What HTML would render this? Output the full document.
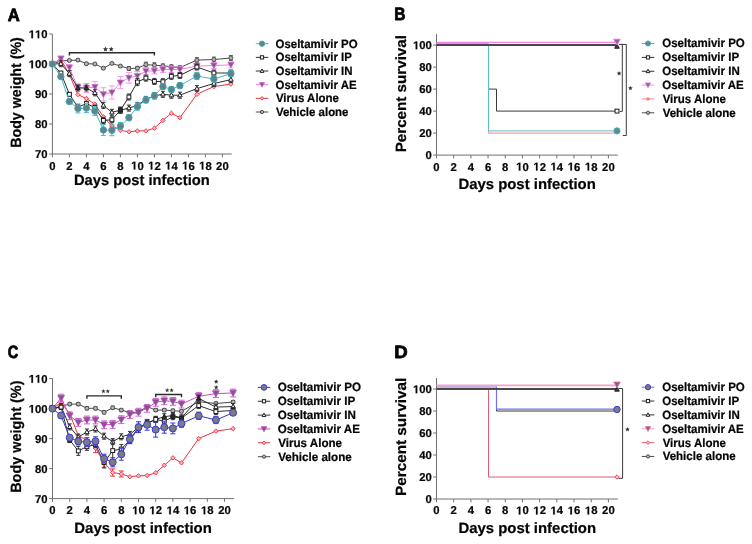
<!DOCTYPE html><html><head><meta charset="utf-8"><style>html,body{margin:0;padding:0;background:#fff;}svg{display:block;will-change:transform;text-rendering:geometricPrecision;} text{stroke:#050505;stroke-width:0.22px;stroke-linejoin:round;}</style></head><body>
<svg width="752" height="544" viewBox="0 0 752 544" font-family='"Liberation Sans", sans-serif'>
<rect width="752" height="544" fill="#fff"/>
<text x="7.84" y="20.65" font-size="17.8" font-weight="bold" fill="#050505" textLength="11.97" lengthAdjust="spacingAndGlyphs" style="stroke-width:0.8px">A</text>
<g stroke="#707070" stroke-width="1" fill="none">
<path d="M52.4 34V154H231.75"/>
<path d="M49.1 154H52.4"/>
<path d="M49.1 124H52.4"/>
<path d="M49.1 94H52.4"/>
<path d="M49.1 64H52.4"/>
<path d="M49.1 34H52.4"/>
<path d="M52.4 154V157.3"/>
<path d="M69.4 154V157.3"/>
<path d="M86.4 154V157.3"/>
<path d="M103.4 154V157.3"/>
<path d="M120.4 154V157.3"/>
<path d="M137.4 154V157.3"/>
<path d="M154.4 154V157.3"/>
<path d="M171.4 154V157.3"/>
<path d="M188.4 154V157.3"/>
<path d="M205.4 154V157.3"/>
<path d="M222.4 154V157.3"/>
</g>
<g font-size="11.3" font-weight="bold" fill="#050505">
<text x="35.03" y="158.2">7</text>
<text x="41.32" y="158.2">0</text>
<text x="35.03" y="128.2">8</text>
<text x="41.32" y="128.2">0</text>
<text x="35.03" y="98.2">9</text>
<text x="41.32" y="98.2">0</text>
<path transform="translate(28.75,68.2) scale(0.005518,-0.005518)" d="M478 0L478 1170L140 959L140 1180L493 1409L759 1409L759 0Z" stroke="#050505" stroke-width="39.9"/>
<text x="35.03" y="68.2">0</text>
<text x="41.32" y="68.2">0</text>
<path transform="translate(28.75,38.2) scale(0.005518,-0.005518)" d="M478 0L478 1170L140 959L140 1180L493 1409L759 1409L759 0Z" stroke="#050505" stroke-width="39.9"/>
<path transform="translate(35.03,38.2) scale(0.005518,-0.005518)" d="M478 0L478 1170L140 959L140 1180L493 1409L759 1409L759 0Z" stroke="#050505" stroke-width="39.9"/>
<text x="41.32" y="38.2">0</text>
<text x="49.26" y="169.5">0</text>
<text x="66.26" y="169.5">2</text>
<text x="83.26" y="169.5">4</text>
<text x="100.26" y="169.5">6</text>
<text x="117.26" y="169.5">8</text>
<path transform="translate(131.12,169.5) scale(0.005518,-0.005518)" d="M478 0L478 1170L140 959L140 1180L493 1409L759 1409L759 0Z" stroke="#050505" stroke-width="39.9"/>
<text x="137.4" y="169.5">0</text>
<path transform="translate(148.12,169.5) scale(0.005518,-0.005518)" d="M478 0L478 1170L140 959L140 1180L493 1409L759 1409L759 0Z" stroke="#050505" stroke-width="39.9"/>
<text x="154.4" y="169.5">2</text>
<path transform="translate(165.12,169.5) scale(0.005518,-0.005518)" d="M478 0L478 1170L140 959L140 1180L493 1409L759 1409L759 0Z" stroke="#050505" stroke-width="39.9"/>
<text x="171.4" y="169.5">4</text>
<path transform="translate(182.12,169.5) scale(0.005518,-0.005518)" d="M478 0L478 1170L140 959L140 1180L493 1409L759 1409L759 0Z" stroke="#050505" stroke-width="39.9"/>
<text x="188.4" y="169.5">6</text>
<path transform="translate(199.12,169.5) scale(0.005518,-0.005518)" d="M478 0L478 1170L140 959L140 1180L493 1409L759 1409L759 0Z" stroke="#050505" stroke-width="39.9"/>
<text x="205.4" y="169.5">8</text>
<text x="216.12" y="169.5">2</text>
<text x="222.4" y="169.5">0</text>
</g>
<text x="73.94" y="185.3" font-size="14.8" font-weight="bold" fill="#050505" textLength="135.86" lengthAdjust="spacingAndGlyphs">Days post infection</text>
<text transform="translate(21.2,147.83) rotate(-90)" font-size="14.8" font-weight="bold" fill="#050505" textLength="110.7" lengthAdjust="spacingAndGlyphs">Body weight (%)</text>
<path d="M69.4 55.6V52.8H154.4V55.6" stroke="#2a2a2a" stroke-width="1.4" fill="none"/>
<polyline points="52.4,64 60.9,61 69.4,60.4 77.9,60.1 86.4,63.7 94.9,64 103.4,68.2 111.9,63.4 120.4,66.1 128.9,68.5 137.4,68.2 145.9,64.6 154.4,65.2 162.9,65.8 171.4,66.7 179.9,67.6 196.9,60.1 213.9,59.5 230.9,58" fill="none" stroke="#4a4a4a" stroke-width="1"/>
<g stroke="#555" stroke-width="1" fill="none">
<path d="M60.9 60.1V61.9M58.9 60.1H62.9M58.9 61.9H62.9"/>
<path d="M69.4 59.5V61.3M67.4 59.5H71.4M67.4 61.3H71.4"/>
<path d="M77.9 59.2V61M75.9 59.2H79.9M75.9 61H79.9"/>
<path d="M86.4 62.8V64.6M84.4 62.8H88.4M84.4 64.6H88.4"/>
<path d="M94.9 63.1V64.9M92.9 63.1H96.9M92.9 64.9H96.9"/>
<path d="M103.4 67.3V69.1M101.4 67.3H105.4M101.4 69.1H105.4"/>
<path d="M111.9 62.5V64.3M109.9 62.5H113.9M109.9 64.3H113.9"/>
<path d="M120.4 65.2V67M118.4 65.2H122.4M118.4 67H122.4"/>
<path d="M128.9 66.7V70.3M126.9 66.7H130.9M126.9 70.3H130.9"/>
<path d="M137.4 66.4V70M135.4 66.4H139.4M135.4 70H139.4"/>
<path d="M145.9 62.2V67M143.9 62.2H147.9M143.9 67H147.9"/>
<path d="M154.4 62.8V67.6M152.4 62.8H156.4M152.4 67.6H156.4"/>
<path d="M162.9 64V67.6M160.9 64H164.9M160.9 67.6H164.9"/>
<path d="M171.4 64.9V68.5M169.4 64.9H173.4M169.4 68.5H173.4"/>
<path d="M179.9 65.8V69.4M177.9 65.8H181.9M177.9 69.4H181.9"/>
<path d="M196.9 57.7V62.5M194.9 57.7H198.9M194.9 62.5H198.9"/>
<path d="M213.9 57.1V61.9M211.9 57.1H215.9M211.9 61.9H215.9"/>
<path d="M230.9 55.6V60.4M228.9 55.6H232.9M228.9 60.4H232.9"/>
</g>
<circle cx="52.4" cy="64" r="2.0" fill="#b4b4b4" stroke="#444" stroke-width="0.9"/>
<circle cx="60.9" cy="61" r="2.0" fill="#b4b4b4" stroke="#444" stroke-width="0.9"/>
<circle cx="69.4" cy="60.4" r="2.0" fill="#b4b4b4" stroke="#444" stroke-width="0.9"/>
<circle cx="77.9" cy="60.1" r="2.0" fill="#b4b4b4" stroke="#444" stroke-width="0.9"/>
<circle cx="86.4" cy="63.7" r="2.0" fill="#b4b4b4" stroke="#444" stroke-width="0.9"/>
<circle cx="94.9" cy="64" r="2.0" fill="#b4b4b4" stroke="#444" stroke-width="0.9"/>
<circle cx="103.4" cy="68.2" r="2.0" fill="#b4b4b4" stroke="#444" stroke-width="0.9"/>
<circle cx="111.9" cy="63.4" r="2.0" fill="#b4b4b4" stroke="#444" stroke-width="0.9"/>
<circle cx="120.4" cy="66.1" r="2.0" fill="#b4b4b4" stroke="#444" stroke-width="0.9"/>
<circle cx="128.9" cy="68.5" r="2.0" fill="#b4b4b4" stroke="#444" stroke-width="0.9"/>
<circle cx="137.4" cy="68.2" r="2.0" fill="#b4b4b4" stroke="#444" stroke-width="0.9"/>
<circle cx="145.9" cy="64.6" r="2.0" fill="#b4b4b4" stroke="#444" stroke-width="0.9"/>
<circle cx="154.4" cy="65.2" r="2.0" fill="#b4b4b4" stroke="#444" stroke-width="0.9"/>
<circle cx="162.9" cy="65.8" r="2.0" fill="#b4b4b4" stroke="#444" stroke-width="0.9"/>
<circle cx="171.4" cy="66.7" r="2.0" fill="#b4b4b4" stroke="#444" stroke-width="0.9"/>
<circle cx="179.9" cy="67.6" r="2.0" fill="#b4b4b4" stroke="#444" stroke-width="0.9"/>
<circle cx="196.9" cy="60.1" r="2.0" fill="#b4b4b4" stroke="#444" stroke-width="0.9"/>
<circle cx="213.9" cy="59.5" r="2.0" fill="#b4b4b4" stroke="#444" stroke-width="0.9"/>
<circle cx="230.9" cy="58" r="2.0" fill="#b4b4b4" stroke="#444" stroke-width="0.9"/>
<polyline points="52.4,64 60.9,59.5 69.4,74.5 77.9,94.6 86.4,98.5 94.9,104.2 103.4,116.8 111.9,125.8 120.4,130.3 128.9,131.8 137.4,130.9 145.9,130.9 154.4,128.2 162.9,120.4 171.4,113.2 179.9,117.7 196.9,94.3 213.9,86.5 230.9,84.1" fill="none" stroke="#ee3040" stroke-width="1"/>
<path d="M52.4 61.8L54.6 64L52.4 66.2L50.2 64Z" fill="#ffb4bc" stroke="#ee3040" stroke-width="0.9"/>
<path d="M60.9 57.3L63.1 59.5L60.9 61.7L58.7 59.5Z" fill="#ffb4bc" stroke="#ee3040" stroke-width="0.9"/>
<path d="M69.4 72.3L71.6 74.5L69.4 76.7L67.2 74.5Z" fill="#ffb4bc" stroke="#ee3040" stroke-width="0.9"/>
<path d="M77.9 92.4L80.1 94.6L77.9 96.8L75.7 94.6Z" fill="#ffb4bc" stroke="#ee3040" stroke-width="0.9"/>
<path d="M86.4 96.3L88.6 98.5L86.4 100.7L84.2 98.5Z" fill="#ffb4bc" stroke="#ee3040" stroke-width="0.9"/>
<path d="M94.9 102L97.1 104.2L94.9 106.4L92.7 104.2Z" fill="#ffb4bc" stroke="#ee3040" stroke-width="0.9"/>
<path d="M103.4 114.6L105.6 116.8L103.4 119L101.2 116.8Z" fill="#ffb4bc" stroke="#ee3040" stroke-width="0.9"/>
<path d="M111.9 123.6L114.1 125.8L111.9 128L109.7 125.8Z" fill="#ffb4bc" stroke="#ee3040" stroke-width="0.9"/>
<path d="M120.4 128.1L122.6 130.3L120.4 132.5L118.2 130.3Z" fill="#ffb4bc" stroke="#ee3040" stroke-width="0.9"/>
<path d="M128.9 129.6L131.1 131.8L128.9 134L126.7 131.8Z" fill="#ffb4bc" stroke="#ee3040" stroke-width="0.9"/>
<path d="M137.4 128.7L139.6 130.9L137.4 133.1L135.2 130.9Z" fill="#ffb4bc" stroke="#ee3040" stroke-width="0.9"/>
<path d="M145.9 128.7L148.1 130.9L145.9 133.1L143.7 130.9Z" fill="#ffb4bc" stroke="#ee3040" stroke-width="0.9"/>
<path d="M154.4 126L156.6 128.2L154.4 130.4L152.2 128.2Z" fill="#ffb4bc" stroke="#ee3040" stroke-width="0.9"/>
<path d="M162.9 118.2L165.1 120.4L162.9 122.6L160.7 120.4Z" fill="#ffb4bc" stroke="#ee3040" stroke-width="0.9"/>
<path d="M171.4 111L173.6 113.2L171.4 115.4L169.2 113.2Z" fill="#ffb4bc" stroke="#ee3040" stroke-width="0.9"/>
<path d="M179.9 115.5L182.1 117.7L179.9 119.9L177.7 117.7Z" fill="#ffb4bc" stroke="#ee3040" stroke-width="0.9"/>
<path d="M196.9 92.1L199.1 94.3L196.9 96.5L194.7 94.3Z" fill="#ffb4bc" stroke="#ee3040" stroke-width="0.9"/>
<path d="M213.9 84.3L216.1 86.5L213.9 88.7L211.7 86.5Z" fill="#ffb4bc" stroke="#ee3040" stroke-width="0.9"/>
<path d="M230.9 81.9L233.1 84.1L230.9 86.3L228.7 84.1Z" fill="#ffb4bc" stroke="#ee3040" stroke-width="0.9"/>
<polyline points="52.4,64 60.9,58.6 69.4,67.6 77.9,87.4 86.4,88 94.9,87.1 103.4,94.3 111.9,92.5 120.4,82.6 128.9,77.8 137.4,76 145.9,71.2 154.4,70.9 162.9,69.4 171.4,69.4 179.9,69.4 196.9,66.1 213.9,65.5 230.9,64.9" fill="none" stroke="#f27ee8" stroke-width="1"/>
<g stroke="#f59cf0" stroke-width="1" fill="none">
<path d="M60.9 56.2V61M57.9 56.2H63.9M57.9 61H63.9"/>
<path d="M69.4 64.6V70.6M66.4 64.6H72.4M66.4 70.6H72.4"/>
<path d="M77.9 83.8V91M74.9 83.8H80.9M74.9 91H80.9"/>
<path d="M86.4 83.5V92.5M83.4 83.5H89.4M83.4 92.5H89.4"/>
<path d="M94.9 81.7V92.5M91.9 81.7H97.9M91.9 92.5H97.9"/>
<path d="M103.4 87.7V100.9M100.4 87.7H106.4M100.4 100.9H106.4"/>
<path d="M111.9 85.9V99.1M108.9 85.9H114.9M108.9 99.1H114.9"/>
<path d="M120.4 76.6V88.6M117.4 76.6H123.4M117.4 88.6H123.4"/>
<path d="M128.9 72.4V83.2M125.9 72.4H131.9M125.9 83.2H131.9"/>
<path d="M137.4 71.5V80.5M134.4 71.5H140.4M134.4 80.5H140.4"/>
<path d="M145.9 67.6V74.8M142.9 67.6H148.9M142.9 74.8H148.9"/>
<path d="M154.4 67.9V73.9M151.4 67.9H157.4M151.4 73.9H157.4"/>
<path d="M162.9 66.4V72.4M159.9 66.4H165.9M159.9 72.4H165.9"/>
<path d="M171.4 66.4V72.4M168.4 66.4H174.4M168.4 72.4H174.4"/>
<path d="M179.9 66.4V72.4M176.9 66.4H182.9M176.9 72.4H182.9"/>
<path d="M196.9 63.1V69.1M193.9 63.1H199.9M193.9 69.1H199.9"/>
<path d="M213.9 62.5V68.5M210.9 62.5H216.9M210.9 68.5H216.9"/>
<path d="M230.9 61.9V67.9M227.9 61.9H233.9M227.9 67.9H233.9"/>
</g>
<path d="M49.25 61.45L55.55 61.45L52.4 67.12Z" fill="#85578a" stroke="#d86cd4" stroke-width="0.8"/>
<path d="M57.75 56.05L64.05 56.05L60.9 61.72Z" fill="#85578a" stroke="#d86cd4" stroke-width="0.8"/>
<path d="M66.25 65.05L72.55 65.05L69.4 70.72Z" fill="#85578a" stroke="#d86cd4" stroke-width="0.8"/>
<path d="M74.75 84.85L81.05 84.85L77.9 90.52Z" fill="#85578a" stroke="#d86cd4" stroke-width="0.8"/>
<path d="M83.25 85.45L89.55 85.45L86.4 91.12Z" fill="#85578a" stroke="#d86cd4" stroke-width="0.8"/>
<path d="M91.75 84.55L98.05 84.55L94.9 90.22Z" fill="#85578a" stroke="#d86cd4" stroke-width="0.8"/>
<path d="M100.25 91.75L106.55 91.75L103.4 97.42Z" fill="#85578a" stroke="#d86cd4" stroke-width="0.8"/>
<path d="M108.75 89.95L115.05 89.95L111.9 95.62Z" fill="#85578a" stroke="#d86cd4" stroke-width="0.8"/>
<path d="M117.25 80.05L123.55 80.05L120.4 85.72Z" fill="#85578a" stroke="#d86cd4" stroke-width="0.8"/>
<path d="M125.75 75.25L132.05 75.25L128.9 80.92Z" fill="#85578a" stroke="#d86cd4" stroke-width="0.8"/>
<path d="M134.25 73.45L140.55 73.45L137.4 79.12Z" fill="#85578a" stroke="#d86cd4" stroke-width="0.8"/>
<path d="M142.75 68.65L149.05 68.65L145.9 74.32Z" fill="#85578a" stroke="#d86cd4" stroke-width="0.8"/>
<path d="M151.25 68.35L157.55 68.35L154.4 74.02Z" fill="#85578a" stroke="#d86cd4" stroke-width="0.8"/>
<path d="M159.75 66.85L166.05 66.85L162.9 72.52Z" fill="#85578a" stroke="#d86cd4" stroke-width="0.8"/>
<path d="M168.25 66.85L174.55 66.85L171.4 72.52Z" fill="#85578a" stroke="#d86cd4" stroke-width="0.8"/>
<path d="M176.75 66.85L183.05 66.85L179.9 72.52Z" fill="#85578a" stroke="#d86cd4" stroke-width="0.8"/>
<path d="M193.75 63.55L200.05 63.55L196.9 69.22Z" fill="#85578a" stroke="#d86cd4" stroke-width="0.8"/>
<path d="M210.75 62.95L217.05 62.95L213.9 68.62Z" fill="#85578a" stroke="#d86cd4" stroke-width="0.8"/>
<path d="M227.75 62.35L234.05 62.35L230.9 68.02Z" fill="#85578a" stroke="#d86cd4" stroke-width="0.8"/>
<polyline points="52.4,64 60.9,63.7 69.4,73.6 77.9,88 86.4,88 94.9,92.8 103.4,105.4 111.9,112.3 120.4,110.2 128.9,108.1 137.4,105.4 145.9,99.4 154.4,95.8 162.9,94.3 171.4,95.2 179.9,95.2 196.9,88.6 213.9,83.5 230.9,79.6" fill="none" stroke="#2e2e2e" stroke-width="1"/>
<g stroke="#333" stroke-width="1" fill="none">
<path d="M60.9 60.7V66.7M58.9 60.7H62.9M58.9 66.7H62.9"/>
<path d="M69.4 70.6V76.6M67.4 70.6H71.4M67.4 76.6H71.4"/>
<path d="M77.9 85V91M75.9 85H79.9M75.9 91H79.9"/>
<path d="M86.4 85V91M84.4 85H88.4M84.4 91H88.4"/>
<path d="M94.9 89.8V95.8M92.9 89.8H96.9M92.9 95.8H96.9"/>
<path d="M103.4 102.4V108.4M101.4 102.4H105.4M101.4 108.4H105.4"/>
<path d="M111.9 109.3V115.3M109.9 109.3H113.9M109.9 115.3H113.9"/>
<path d="M120.4 107.2V113.2M118.4 107.2H122.4M118.4 113.2H122.4"/>
<path d="M128.9 105.1V111.1M126.9 105.1H130.9M126.9 111.1H130.9"/>
<path d="M137.4 102.4V108.4M135.4 102.4H139.4M135.4 108.4H139.4"/>
<path d="M145.9 96.4V102.4M143.9 96.4H147.9M143.9 102.4H147.9"/>
<path d="M154.4 92.8V98.8M152.4 92.8H156.4M152.4 98.8H156.4"/>
<path d="M162.9 91.3V97.3M160.9 91.3H164.9M160.9 97.3H164.9"/>
<path d="M171.4 92.2V98.2M169.4 92.2H173.4M169.4 98.2H173.4"/>
<path d="M179.9 92.2V98.2M177.9 92.2H181.9M177.9 98.2H181.9"/>
<path d="M196.9 85.6V91.6M194.9 85.6H198.9M194.9 91.6H198.9"/>
<path d="M213.9 80.5V86.5M211.9 80.5H215.9M211.9 86.5H215.9"/>
<path d="M230.9 76.6V82.6M228.9 76.6H232.9M228.9 82.6H232.9"/>
</g>
<path d="M52.4 61.52L54.7 65.66L50.1 65.66Z" fill="#fff" stroke="#1e1e1e" stroke-width="1"/>
<path d="M60.9 61.22L63.2 65.36L58.6 65.36Z" fill="#fff" stroke="#1e1e1e" stroke-width="1"/>
<path d="M69.4 71.12L71.7 75.26L67.1 75.26Z" fill="#fff" stroke="#1e1e1e" stroke-width="1"/>
<path d="M77.9 85.52L80.2 89.66L75.6 89.66Z" fill="#3c2c44" stroke="#1e1e1e" stroke-width="1"/>
<path d="M86.4 85.52L88.7 89.66L84.1 89.66Z" fill="#3c2c44" stroke="#1e1e1e" stroke-width="1"/>
<path d="M94.9 90.32L97.2 94.46L92.6 94.46Z" fill="#fff" stroke="#1e1e1e" stroke-width="1"/>
<path d="M103.4 102.92L105.7 107.06L101.1 107.06Z" fill="#fff" stroke="#1e1e1e" stroke-width="1"/>
<path d="M111.9 109.82L114.2 113.96L109.6 113.96Z" fill="#fff" stroke="#1e1e1e" stroke-width="1"/>
<path d="M120.4 107.72L122.7 111.86L118.1 111.86Z" fill="#2a2a2a" stroke="#1e1e1e" stroke-width="1"/>
<path d="M128.9 105.62L131.2 109.76L126.6 109.76Z" fill="#fff" stroke="#1e1e1e" stroke-width="1"/>
<path d="M137.4 102.92L139.7 107.06L135.1 107.06Z" fill="#fff" stroke="#1e1e1e" stroke-width="1"/>
<path d="M145.9 96.92L148.2 101.06L143.6 101.06Z" fill="#fff" stroke="#1e1e1e" stroke-width="1"/>
<path d="M154.4 93.32L156.7 97.46L152.1 97.46Z" fill="#fff" stroke="#1e1e1e" stroke-width="1"/>
<path d="M162.9 91.82L165.2 95.96L160.6 95.96Z" fill="#fff" stroke="#1e1e1e" stroke-width="1"/>
<path d="M171.4 92.72L173.7 96.86L169.1 96.86Z" fill="#fff" stroke="#1e1e1e" stroke-width="1"/>
<path d="M179.9 92.72L182.2 96.86L177.6 96.86Z" fill="#fff" stroke="#1e1e1e" stroke-width="1"/>
<path d="M196.9 86.12L199.2 90.26L194.6 90.26Z" fill="#fff" stroke="#1e1e1e" stroke-width="1"/>
<path d="M213.9 81.02L216.2 85.16L211.6 85.16Z" fill="#fff" stroke="#1e1e1e" stroke-width="1"/>
<path d="M230.9 77.12L233.2 81.26L228.6 81.26Z" fill="#fff" stroke="#1e1e1e" stroke-width="1"/>
<polyline points="52.4,64 60.9,73 69.4,94.3 77.9,107.2 86.4,103.6 94.9,107.5 103.4,120.4 111.9,119.8 120.4,110.2 128.9,97 137.4,82 145.9,78.1 154.4,81.4 162.9,81.7 171.4,76.3 179.9,75.4 196.9,67 213.9,73 230.9,73" fill="none" stroke="#2e2e2e" stroke-width="1"/>
<g stroke="#333" stroke-width="1" fill="none">
<path d="M60.9 71.5V74.5M58.9 71.5H62.9M58.9 74.5H62.9"/>
<path d="M69.4 92.8V95.8M67.4 92.8H71.4M67.4 95.8H71.4"/>
<path d="M77.9 104.8V109.6M75.9 104.8H79.9M75.9 109.6H79.9"/>
<path d="M86.4 101.2V106M84.4 101.2H88.4M84.4 106H88.4"/>
<path d="M94.9 105.1V109.9M92.9 105.1H96.9M92.9 109.9H96.9"/>
<path d="M103.4 117.4V123.4M101.4 117.4H105.4M101.4 123.4H105.4"/>
<path d="M111.9 116.8V122.8M109.9 116.8H113.9M109.9 122.8H113.9"/>
<path d="M120.4 107.2V113.2M118.4 107.2H122.4M118.4 113.2H122.4"/>
<path d="M128.9 94V100M126.9 94H130.9M126.9 100H130.9"/>
<path d="M137.4 78.4V85.6M135.4 78.4H139.4M135.4 85.6H139.4"/>
<path d="M145.9 75.1V81.1M143.9 75.1H147.9M143.9 81.1H147.9"/>
<path d="M154.4 78.4V84.4M152.4 78.4H156.4M152.4 84.4H156.4"/>
<path d="M162.9 78.7V84.7M160.9 78.7H164.9M160.9 84.7H164.9"/>
<path d="M171.4 73.3V79.3M169.4 73.3H173.4M169.4 79.3H173.4"/>
<path d="M179.9 72.4V78.4M177.9 72.4H181.9M177.9 78.4H181.9"/>
<path d="M196.9 64V70M194.9 64H198.9M194.9 70H198.9"/>
<path d="M213.9 70V76M211.9 70H215.9M211.9 76H215.9"/>
<path d="M230.9 70V76M228.9 70H232.9M228.9 76H232.9"/>
</g>
<rect x="50.45" y="62.05" width="3.9" height="3.9" fill="#fff" stroke="#1e1e1e" stroke-width="1"/>
<rect x="58.95" y="71.05" width="3.9" height="3.9" fill="#fff" stroke="#1e1e1e" stroke-width="1"/>
<rect x="67.45" y="92.35" width="3.9" height="3.9" fill="#fff" stroke="#1e1e1e" stroke-width="1"/>
<rect x="75.95" y="105.25" width="3.9" height="3.9" fill="#fff" stroke="#1e1e1e" stroke-width="1"/>
<rect x="84.45" y="101.65" width="3.9" height="3.9" fill="#fff" stroke="#1e1e1e" stroke-width="1"/>
<rect x="92.95" y="105.55" width="3.9" height="3.9" fill="#fff" stroke="#1e1e1e" stroke-width="1"/>
<rect x="101.45" y="118.45" width="3.9" height="3.9" fill="#fff" stroke="#1e1e1e" stroke-width="1"/>
<rect x="109.95" y="117.85" width="3.9" height="3.9" fill="#fff" stroke="#1e1e1e" stroke-width="1"/>
<rect x="118.45" y="108.25" width="3.9" height="3.9" fill="#2a2a2a" stroke="#1e1e1e" stroke-width="1"/>
<rect x="126.95" y="95.05" width="3.9" height="3.9" fill="#fff" stroke="#1e1e1e" stroke-width="1"/>
<rect x="135.45" y="80.05" width="3.9" height="3.9" fill="#fff" stroke="#1e1e1e" stroke-width="1"/>
<rect x="143.95" y="76.15" width="3.9" height="3.9" fill="#fff" stroke="#1e1e1e" stroke-width="1"/>
<rect x="152.45" y="79.45" width="3.9" height="3.9" fill="#fff" stroke="#1e1e1e" stroke-width="1"/>
<rect x="160.95" y="79.75" width="3.9" height="3.9" fill="#fff" stroke="#1e1e1e" stroke-width="1"/>
<rect x="169.45" y="74.35" width="3.9" height="3.9" fill="#fff" stroke="#1e1e1e" stroke-width="1"/>
<rect x="177.95" y="73.45" width="3.9" height="3.9" fill="#fff" stroke="#1e1e1e" stroke-width="1"/>
<rect x="194.95" y="65.05" width="3.9" height="3.9" fill="#fff" stroke="#1e1e1e" stroke-width="1"/>
<rect x="211.95" y="71.05" width="3.9" height="3.9" fill="#fff" stroke="#1e1e1e" stroke-width="1"/>
<rect x="228.95" y="71.05" width="3.9" height="3.9" fill="#fff" stroke="#1e1e1e" stroke-width="1"/>
<polyline points="52.4,64 60.9,76.6 69.4,101.5 77.9,108.4 86.4,108.1 94.9,111.1 103.4,130 111.9,130.3 120.4,126.1 128.9,117.7 137.4,106.6 145.9,100 154.4,95.8 162.9,86.5 171.4,89.5 179.9,85.6 196.9,76 213.9,79 230.9,73.6" fill="none" stroke="#45b8c6" stroke-width="1"/>
<g stroke="#45b8c6" stroke-width="1" fill="none">
<path d="M60.9 74.8V78.4M58.4 74.8H63.4M58.4 78.4H63.4"/>
<path d="M69.4 99.1V103.9M66.9 99.1H71.9M66.9 103.9H71.9"/>
<path d="M77.9 103.9V112.9M75.4 103.9H80.4M75.4 112.9H80.4"/>
<path d="M86.4 103.6V112.6M83.9 103.6H88.9M83.9 112.6H88.9"/>
<path d="M94.9 106.6V115.6M92.4 106.6H97.4M92.4 115.6H97.4"/>
<path d="M103.4 124.6V135.4M100.9 124.6H105.9M100.9 135.4H105.9"/>
<path d="M111.9 124.9V135.7M109.4 124.9H114.4M109.4 135.7H114.4"/>
<path d="M120.4 122.5V129.7M117.9 122.5H122.9M117.9 129.7H122.9"/>
<path d="M128.9 114.7V120.7M126.4 114.7H131.4M126.4 120.7H131.4"/>
<path d="M137.4 103V110.2M134.9 103H139.9M134.9 110.2H139.9"/>
<path d="M145.9 97V103M143.4 97H148.4M143.4 103H148.4"/>
<path d="M154.4 92.8V98.8M151.9 92.8H156.9M151.9 98.8H156.9"/>
<path d="M162.9 83.5V89.5M160.4 83.5H165.4M160.4 89.5H165.4"/>
<path d="M171.4 86.5V92.5M168.9 86.5H173.9M168.9 92.5H173.9"/>
<path d="M179.9 82.6V88.6M177.4 82.6H182.4M177.4 88.6H182.4"/>
<path d="M196.9 72.4V79.6M194.4 72.4H199.4M194.4 79.6H199.4"/>
<path d="M213.9 76V82M211.4 76H216.4M211.4 82H216.4"/>
<path d="M230.9 70.6V76.6M228.4 70.6H233.4M228.4 76.6H233.4"/>
</g>
<circle cx="52.4" cy="64" r="3.2" fill="#62818a" stroke="#3fa8b4" stroke-width="1"/>
<circle cx="60.9" cy="76.6" r="3.2" fill="#62818a" stroke="#3fa8b4" stroke-width="1"/>
<circle cx="69.4" cy="101.5" r="3.2" fill="#62818a" stroke="#3fa8b4" stroke-width="1"/>
<circle cx="77.9" cy="108.4" r="3.2" fill="#62818a" stroke="#3fa8b4" stroke-width="1"/>
<circle cx="86.4" cy="108.1" r="3.2" fill="#62818a" stroke="#3fa8b4" stroke-width="1"/>
<circle cx="94.9" cy="111.1" r="3.2" fill="#62818a" stroke="#3fa8b4" stroke-width="1"/>
<circle cx="103.4" cy="130" r="3.2" fill="#62818a" stroke="#3fa8b4" stroke-width="1"/>
<circle cx="111.9" cy="130.3" r="3.2" fill="#62818a" stroke="#3fa8b4" stroke-width="1"/>
<circle cx="120.4" cy="126.1" r="3.2" fill="#62818a" stroke="#3fa8b4" stroke-width="1"/>
<circle cx="128.9" cy="117.7" r="3.2" fill="#62818a" stroke="#3fa8b4" stroke-width="1"/>
<circle cx="137.4" cy="106.6" r="3.2" fill="#62818a" stroke="#3fa8b4" stroke-width="1"/>
<circle cx="145.9" cy="100" r="3.2" fill="#62818a" stroke="#3fa8b4" stroke-width="1"/>
<circle cx="154.4" cy="95.8" r="3.2" fill="#62818a" stroke="#3fa8b4" stroke-width="1"/>
<circle cx="162.9" cy="86.5" r="3.2" fill="#62818a" stroke="#3fa8b4" stroke-width="1"/>
<circle cx="171.4" cy="89.5" r="3.2" fill="#62818a" stroke="#3fa8b4" stroke-width="1"/>
<circle cx="179.9" cy="85.6" r="3.2" fill="#62818a" stroke="#3fa8b4" stroke-width="1"/>
<circle cx="196.9" cy="76" r="3.2" fill="#62818a" stroke="#3fa8b4" stroke-width="1"/>
<circle cx="213.9" cy="79" r="3.2" fill="#62818a" stroke="#3fa8b4" stroke-width="1"/>
<circle cx="230.9" cy="73.6" r="3.2" fill="#62818a" stroke="#3fa8b4" stroke-width="1"/>
<polygon points="105.5,46.5 106.21,48.22 108.07,48.37 106.66,49.58 107.09,51.38 105.5,50.42 103.91,51.38 104.34,49.58 102.93,48.37 104.79,48.22" fill="#333"/>
<polygon points="111.2,46.5 111.91,48.22 113.77,48.37 112.36,49.58 112.79,51.38 111.2,50.42 109.61,51.38 110.04,49.58 108.63,48.37 110.49,48.22" fill="#333"/>
<path d="M255.8 43.7H268.3" stroke="#45b8c6" stroke-width="1"/>
<circle cx="262" cy="43.7" r="2.62" fill="#62818a" stroke="#3fa8b4" stroke-width="1"/>
<text x="275.54" y="47.6" font-size="12.1" font-weight="bold" fill="#050505" textLength="82.1" lengthAdjust="spacingAndGlyphs">Oseltamivir PO</text>
<path d="M255.8 57.36H268.3" stroke="#2e2e2e" stroke-width="1"/>
<rect x="260.4" y="55.76" width="3.2" height="3.2" fill="#fff" stroke="#1e1e1e" stroke-width="1"/>
<text x="275.54" y="61.26" font-size="12.1" font-weight="bold" fill="#050505" textLength="76.37" lengthAdjust="spacingAndGlyphs">Oseltamivir IP</text>
<path d="M255.8 71.02H268.3" stroke="#2e2e2e" stroke-width="1"/>
<path d="M262 68.98L263.88 72.38L260.12 72.38Z" fill="#fff" stroke="#1e1e1e" stroke-width="1"/>
<text x="275.54" y="74.92" font-size="12.1" font-weight="bold" fill="#050505" textLength="77.01" lengthAdjust="spacingAndGlyphs">Oseltamivir IN</text>
<path d="M255.8 84.68H268.3" stroke="#f27ee8" stroke-width="1"/>
<path d="M259.42 82.59L264.58 82.59L262 87.24Z" fill="#85578a" stroke="#d86cd4" stroke-width="0.8"/>
<text x="275.54" y="88.58" font-size="12.1" font-weight="bold" fill="#050505" textLength="81.04" lengthAdjust="spacingAndGlyphs">Oseltamivir AE</text>
<path d="M255.8 98.34H268.3" stroke="#ee3040" stroke-width="1"/>
<path d="M262 96.53L263.81 98.34L262 100.15L260.19 98.34Z" fill="#ffb4bc" stroke="#ee3040" stroke-width="0.9"/>
<text x="275.94" y="102.24" font-size="12.1" font-weight="bold" fill="#050505" textLength="62.99" lengthAdjust="spacingAndGlyphs">Virus Alone</text>
<path d="M255.8 112H268.3" stroke="#4a4a4a" stroke-width="1"/>
<circle cx="262" cy="112" r="1.64" fill="#b4b4b4" stroke="#444" stroke-width="0.9"/>
<text x="275.94" y="115.9" font-size="12.1" font-weight="bold" fill="#050505" textLength="72.55" lengthAdjust="spacingAndGlyphs">Vehicle alone</text>
<text x="7.87" y="358.45" font-size="17.8" font-weight="bold" fill="#050505" textLength="10.53" lengthAdjust="spacingAndGlyphs" style="stroke-width:0.8px">C</text>
<g stroke="#707070" stroke-width="1" fill="none">
<path d="M52.5 378.6V498.6H233.96"/>
<path d="M49.2 498.6H52.5"/>
<path d="M49.2 468.6H52.5"/>
<path d="M49.2 438.6H52.5"/>
<path d="M49.2 408.6H52.5"/>
<path d="M49.2 378.6H52.5"/>
<path d="M52.5 498.6V501.9"/>
<path d="M69.7 498.6V501.9"/>
<path d="M86.9 498.6V501.9"/>
<path d="M104.1 498.6V501.9"/>
<path d="M121.3 498.6V501.9"/>
<path d="M138.5 498.6V501.9"/>
<path d="M155.7 498.6V501.9"/>
<path d="M172.9 498.6V501.9"/>
<path d="M190.1 498.6V501.9"/>
<path d="M207.3 498.6V501.9"/>
<path d="M224.5 498.6V501.9"/>
</g>
<g font-size="11.3" font-weight="bold" fill="#050505">
<text x="35.03" y="502.8">7</text>
<text x="41.32" y="502.8">0</text>
<text x="35.03" y="472.8">8</text>
<text x="41.32" y="472.8">0</text>
<text x="35.03" y="442.8">9</text>
<text x="41.32" y="442.8">0</text>
<path transform="translate(28.75,412.8) scale(0.005518,-0.005518)" d="M478 0L478 1170L140 959L140 1180L493 1409L759 1409L759 0Z" stroke="#050505" stroke-width="39.9"/>
<text x="35.03" y="412.8">0</text>
<text x="41.32" y="412.8">0</text>
<path transform="translate(28.75,382.8) scale(0.005518,-0.005518)" d="M478 0L478 1170L140 959L140 1180L493 1409L759 1409L759 0Z" stroke="#050505" stroke-width="39.9"/>
<path transform="translate(35.03,382.8) scale(0.005518,-0.005518)" d="M478 0L478 1170L140 959L140 1180L493 1409L759 1409L759 0Z" stroke="#050505" stroke-width="39.9"/>
<text x="41.32" y="382.8">0</text>
<text x="49.36" y="514.3">0</text>
<text x="66.56" y="514.3">2</text>
<text x="83.76" y="514.3">4</text>
<text x="100.96" y="514.3">6</text>
<text x="118.16" y="514.3">8</text>
<path transform="translate(132.22,514.3) scale(0.005518,-0.005518)" d="M478 0L478 1170L140 959L140 1180L493 1409L759 1409L759 0Z" stroke="#050505" stroke-width="39.9"/>
<text x="138.5" y="514.3">0</text>
<path transform="translate(149.42,514.3) scale(0.005518,-0.005518)" d="M478 0L478 1170L140 959L140 1180L493 1409L759 1409L759 0Z" stroke="#050505" stroke-width="39.9"/>
<text x="155.7" y="514.3">2</text>
<path transform="translate(166.62,514.3) scale(0.005518,-0.005518)" d="M478 0L478 1170L140 959L140 1180L493 1409L759 1409L759 0Z" stroke="#050505" stroke-width="39.9"/>
<text x="172.9" y="514.3">4</text>
<path transform="translate(183.82,514.3) scale(0.005518,-0.005518)" d="M478 0L478 1170L140 959L140 1180L493 1409L759 1409L759 0Z" stroke="#050505" stroke-width="39.9"/>
<text x="190.1" y="514.3">6</text>
<path transform="translate(201.02,514.3) scale(0.005518,-0.005518)" d="M478 0L478 1170L140 959L140 1180L493 1409L759 1409L759 0Z" stroke="#050505" stroke-width="39.9"/>
<text x="207.3" y="514.3">8</text>
<text x="218.22" y="514.3">2</text>
<text x="224.5" y="514.3">0</text>
</g>
<text x="74.33" y="532.6" font-size="14.8" font-weight="bold" fill="#050505" textLength="137.48" lengthAdjust="spacingAndGlyphs">Days post infection</text>
<text transform="translate(21.3,492.84) rotate(-90)" font-size="14.8" font-weight="bold" fill="#050505" textLength="112.33" lengthAdjust="spacingAndGlyphs">Body weight (%)</text>
<path d="M86.9 398.7V395.9H121.3V398.7" stroke="#2a2a2a" stroke-width="1.4" fill="none"/>
<path d="M155.7 397.3V394.5H181.5V397.3" stroke="#2a2a2a" stroke-width="1.4" fill="none"/>
<polyline points="52.5,408.6 61.1,406.2 69.7,404.1 78.3,404.1 86.9,408.3 95.5,408.3 104.1,412.35 112.7,407.7 121.3,410.1 129.9,412.5 138.5,412.2 147.1,406.5 155.7,410.1 164.3,410.1 172.9,410.7 181.5,411.3 198.7,401.7 215.9,403.5 233.1,402" fill="none" stroke="#4a4a4a" stroke-width="1"/>
<g stroke="#555" stroke-width="1" fill="none">
<path d="M61.1 404.7V407.7M59.1 404.7H63.1M59.1 407.7H63.1"/>
<path d="M69.7 402.6V405.6M67.7 402.6H71.7M67.7 405.6H71.7"/>
<path d="M78.3 402.6V405.6M76.3 402.6H80.3M76.3 405.6H80.3"/>
<path d="M86.9 406.8V409.8M84.9 406.8H88.9M84.9 409.8H88.9"/>
<path d="M95.5 406.8V409.8M93.5 406.8H97.5M93.5 409.8H97.5"/>
<path d="M104.1 410.85V413.85M102.1 410.85H106.1M102.1 413.85H106.1"/>
<path d="M112.7 406.2V409.2M110.7 406.2H114.7M110.7 409.2H114.7"/>
<path d="M121.3 408.6V411.6M119.3 408.6H123.3M119.3 411.6H123.3"/>
<path d="M129.9 411V414M127.9 411H131.9M127.9 414H131.9"/>
<path d="M138.5 410.7V413.7M136.5 410.7H140.5M136.5 413.7H140.5"/>
<path d="M147.1 405V408M145.1 405H149.1M145.1 408H149.1"/>
<path d="M155.7 408.6V411.6M153.7 408.6H157.7M153.7 411.6H157.7"/>
<path d="M164.3 408.6V411.6M162.3 408.6H166.3M162.3 411.6H166.3"/>
<path d="M172.9 409.2V412.2M170.9 409.2H174.9M170.9 412.2H174.9"/>
<path d="M181.5 409.8V412.8M179.5 409.8H183.5M179.5 412.8H183.5"/>
<path d="M198.7 400.2V403.2M196.7 400.2H200.7M196.7 403.2H200.7"/>
<path d="M215.9 402V405M213.9 402H217.9M213.9 405H217.9"/>
<path d="M233.1 400.5V403.5M231.1 400.5H235.1M231.1 403.5H235.1"/>
</g>
<circle cx="52.5" cy="408.6" r="2.0" fill="#b4b4b4" stroke="#444" stroke-width="0.9"/>
<circle cx="61.1" cy="406.2" r="2.0" fill="#b4b4b4" stroke="#444" stroke-width="0.9"/>
<circle cx="69.7" cy="404.1" r="2.0" fill="#b4b4b4" stroke="#444" stroke-width="0.9"/>
<circle cx="78.3" cy="404.1" r="2.0" fill="#b4b4b4" stroke="#444" stroke-width="0.9"/>
<circle cx="86.9" cy="408.3" r="2.0" fill="#b4b4b4" stroke="#444" stroke-width="0.9"/>
<circle cx="95.5" cy="408.3" r="2.0" fill="#b4b4b4" stroke="#444" stroke-width="0.9"/>
<circle cx="104.1" cy="412.35" r="2.0" fill="#b4b4b4" stroke="#444" stroke-width="0.9"/>
<circle cx="112.7" cy="407.7" r="2.0" fill="#b4b4b4" stroke="#444" stroke-width="0.9"/>
<circle cx="121.3" cy="410.1" r="2.0" fill="#b4b4b4" stroke="#444" stroke-width="0.9"/>
<circle cx="129.9" cy="412.5" r="2.0" fill="#b4b4b4" stroke="#444" stroke-width="0.9"/>
<circle cx="138.5" cy="412.2" r="2.0" fill="#b4b4b4" stroke="#444" stroke-width="0.9"/>
<circle cx="147.1" cy="406.5" r="2.0" fill="#b4b4b4" stroke="#444" stroke-width="0.9"/>
<circle cx="155.7" cy="410.1" r="2.0" fill="#b4b4b4" stroke="#444" stroke-width="0.9"/>
<circle cx="164.3" cy="410.1" r="2.0" fill="#b4b4b4" stroke="#444" stroke-width="0.9"/>
<circle cx="172.9" cy="410.7" r="2.0" fill="#b4b4b4" stroke="#444" stroke-width="0.9"/>
<circle cx="181.5" cy="411.3" r="2.0" fill="#b4b4b4" stroke="#444" stroke-width="0.9"/>
<circle cx="198.7" cy="401.7" r="2.0" fill="#b4b4b4" stroke="#444" stroke-width="0.9"/>
<circle cx="215.9" cy="403.5" r="2.0" fill="#b4b4b4" stroke="#444" stroke-width="0.9"/>
<circle cx="233.1" cy="402" r="2.0" fill="#b4b4b4" stroke="#444" stroke-width="0.9"/>
<polyline points="52.5,408.6 61.1,402.6 69.7,413.7 78.3,435.6 86.9,440.1 95.5,448.2 104.1,462.6 112.7,472.5 121.3,474 129.9,476.7 138.5,475.8 147.1,475.5 155.7,472.8 164.3,465.3 172.9,457.8 181.5,462.9 198.7,438.6 215.9,431.1 233.1,428.7" fill="none" stroke="#ee3040" stroke-width="1"/>
<g stroke="#ee3040" stroke-width="1" fill="none">
<path d="M95.5 443.7V452.7M93 443.7H98M93 452.7H98"/>
<path d="M104.1 458.1V467.1M101.6 458.1H106.6M101.6 467.1H106.6"/>
<path d="M112.7 468.9V476.1M110.2 468.9H115.2M110.2 476.1H115.2"/>
<path d="M121.3 471V477M118.8 471H123.8M118.8 477H123.8"/>
</g>
<path d="M52.5 406.4L54.7 408.6L52.5 410.8L50.3 408.6Z" fill="#ffb4bc" stroke="#ee3040" stroke-width="0.9"/>
<path d="M61.1 400.4L63.3 402.6L61.1 404.8L58.9 402.6Z" fill="#ffb4bc" stroke="#ee3040" stroke-width="0.9"/>
<path d="M69.7 411.5L71.9 413.7L69.7 415.9L67.5 413.7Z" fill="#ffb4bc" stroke="#ee3040" stroke-width="0.9"/>
<path d="M78.3 433.4L80.5 435.6L78.3 437.8L76.1 435.6Z" fill="#ffb4bc" stroke="#ee3040" stroke-width="0.9"/>
<path d="M86.9 437.9L89.1 440.1L86.9 442.3L84.7 440.1Z" fill="#ffb4bc" stroke="#ee3040" stroke-width="0.9"/>
<path d="M95.5 446L97.7 448.2L95.5 450.4L93.3 448.2Z" fill="#ffb4bc" stroke="#ee3040" stroke-width="0.9"/>
<path d="M104.1 460.4L106.3 462.6L104.1 464.8L101.9 462.6Z" fill="#ffb4bc" stroke="#ee3040" stroke-width="0.9"/>
<path d="M112.7 470.3L114.9 472.5L112.7 474.7L110.5 472.5Z" fill="#ffb4bc" stroke="#ee3040" stroke-width="0.9"/>
<path d="M121.3 471.8L123.5 474L121.3 476.2L119.1 474Z" fill="#ffb4bc" stroke="#ee3040" stroke-width="0.9"/>
<path d="M129.9 474.5L132.1 476.7L129.9 478.9L127.7 476.7Z" fill="#ffb4bc" stroke="#ee3040" stroke-width="0.9"/>
<path d="M138.5 473.6L140.7 475.8L138.5 478L136.3 475.8Z" fill="#ffb4bc" stroke="#ee3040" stroke-width="0.9"/>
<path d="M147.1 473.3L149.3 475.5L147.1 477.7L144.9 475.5Z" fill="#ffb4bc" stroke="#ee3040" stroke-width="0.9"/>
<path d="M155.7 470.6L157.9 472.8L155.7 475L153.5 472.8Z" fill="#ffb4bc" stroke="#ee3040" stroke-width="0.9"/>
<path d="M164.3 463.1L166.5 465.3L164.3 467.5L162.1 465.3Z" fill="#ffb4bc" stroke="#ee3040" stroke-width="0.9"/>
<path d="M172.9 455.6L175.1 457.8L172.9 460L170.7 457.8Z" fill="#ffb4bc" stroke="#ee3040" stroke-width="0.9"/>
<path d="M181.5 460.7L183.7 462.9L181.5 465.1L179.3 462.9Z" fill="#ffb4bc" stroke="#ee3040" stroke-width="0.9"/>
<path d="M198.7 436.4L200.9 438.6L198.7 440.8L196.5 438.6Z" fill="#ffb4bc" stroke="#ee3040" stroke-width="0.9"/>
<path d="M215.9 428.9L218.1 431.1L215.9 433.3L213.7 431.1Z" fill="#ffb4bc" stroke="#ee3040" stroke-width="0.9"/>
<path d="M233.1 426.5L235.3 428.7L233.1 430.9L230.9 428.7Z" fill="#ffb4bc" stroke="#ee3040" stroke-width="0.9"/>
<polyline points="52.5,408.6 61.1,398.1 69.7,415.8 78.3,422.4 86.9,420 95.5,420 104.1,424.8 112.7,424.5 121.3,419.7 129.9,414.6 138.5,412.2 147.1,408.3 155.7,402.3 164.3,400.8 172.9,401.4 181.5,404.1 198.7,396.3 215.9,393.6 233.1,393" fill="none" stroke="#cc48cc" stroke-width="1"/>
<g stroke="#d060d0" stroke-width="1" fill="none">
<path d="M61.1 394.2V402M58.1 394.2H64.1M58.1 402H64.1"/>
<path d="M69.7 411.9V419.7M66.7 411.9H72.7M66.7 419.7H72.7"/>
<path d="M78.3 418.5V426.3M75.3 418.5H81.3M75.3 426.3H81.3"/>
<path d="M86.9 416.1V423.9M83.9 416.1H89.9M83.9 423.9H89.9"/>
<path d="M95.5 416.1V423.9M92.5 416.1H98.5M92.5 423.9H98.5"/>
<path d="M104.1 420.9V428.7M101.1 420.9H107.1M101.1 428.7H107.1"/>
<path d="M112.7 420.6V428.4M109.7 420.6H115.7M109.7 428.4H115.7"/>
<path d="M121.3 415.8V423.6M118.3 415.8H124.3M118.3 423.6H124.3"/>
<path d="M129.9 410.7V418.5M126.9 410.7H132.9M126.9 418.5H132.9"/>
<path d="M138.5 408.3V416.1M135.5 408.3H141.5M135.5 416.1H141.5"/>
<path d="M147.1 404.4V412.2M144.1 404.4H150.1M144.1 412.2H150.1"/>
<path d="M155.7 398.4V406.2M152.7 398.4H158.7M152.7 406.2H158.7"/>
<path d="M164.3 396.9V404.7M161.3 396.9H167.3M161.3 404.7H167.3"/>
<path d="M172.9 397.5V405.3M169.9 397.5H175.9M169.9 405.3H175.9"/>
<path d="M181.5 400.2V408M178.5 400.2H184.5M178.5 408H184.5"/>
<path d="M198.7 392.4V400.2M195.7 392.4H201.7M195.7 400.2H201.7"/>
<path d="M215.9 389.7V397.5M212.9 389.7H218.9M212.9 397.5H218.9"/>
<path d="M233.1 389.1V396.9M230.1 389.1H236.1M230.1 396.9H236.1"/>
</g>
<path d="M49.1 405.85L55.9 405.85L52.5 411.97Z" fill="#8a5090" stroke="#b050b8" stroke-width="0.8"/>
<path d="M57.7 395.35L64.5 395.35L61.1 401.47Z" fill="#8a5090" stroke="#b050b8" stroke-width="0.8"/>
<path d="M66.3 413.05L73.1 413.05L69.7 419.17Z" fill="#8a5090" stroke="#b050b8" stroke-width="0.8"/>
<path d="M74.9 419.65L81.7 419.65L78.3 425.77Z" fill="#8a5090" stroke="#b050b8" stroke-width="0.8"/>
<path d="M83.5 417.25L90.3 417.25L86.9 423.37Z" fill="#8a5090" stroke="#b050b8" stroke-width="0.8"/>
<path d="M92.1 417.25L98.9 417.25L95.5 423.37Z" fill="#8a5090" stroke="#b050b8" stroke-width="0.8"/>
<path d="M100.7 422.05L107.5 422.05L104.1 428.17Z" fill="#8a5090" stroke="#b050b8" stroke-width="0.8"/>
<path d="M109.3 421.75L116.1 421.75L112.7 427.87Z" fill="#8a5090" stroke="#b050b8" stroke-width="0.8"/>
<path d="M117.9 416.95L124.7 416.95L121.3 423.07Z" fill="#8a5090" stroke="#b050b8" stroke-width="0.8"/>
<path d="M126.5 411.85L133.3 411.85L129.9 417.97Z" fill="#8a5090" stroke="#b050b8" stroke-width="0.8"/>
<path d="M135.1 409.45L141.9 409.45L138.5 415.57Z" fill="#8a5090" stroke="#b050b8" stroke-width="0.8"/>
<path d="M143.7 405.55L150.5 405.55L147.1 411.67Z" fill="#8a5090" stroke="#b050b8" stroke-width="0.8"/>
<path d="M152.3 399.55L159.1 399.55L155.7 405.67Z" fill="#8a5090" stroke="#b050b8" stroke-width="0.8"/>
<path d="M160.9 398.05L167.7 398.05L164.3 404.17Z" fill="#8a5090" stroke="#b050b8" stroke-width="0.8"/>
<path d="M169.5 398.65L176.3 398.65L172.9 404.77Z" fill="#8a5090" stroke="#b050b8" stroke-width="0.8"/>
<path d="M178.1 401.35L184.9 401.35L181.5 407.47Z" fill="#8a5090" stroke="#b050b8" stroke-width="0.8"/>
<path d="M195.3 393.55L202.1 393.55L198.7 399.67Z" fill="#8a5090" stroke="#b050b8" stroke-width="0.8"/>
<path d="M212.5 390.85L219.3 390.85L215.9 396.97Z" fill="#8a5090" stroke="#b050b8" stroke-width="0.8"/>
<path d="M229.7 390.25L236.5 390.25L233.1 396.37Z" fill="#8a5090" stroke="#b050b8" stroke-width="0.8"/>
<polyline points="52.5,408.6 61.1,406.5 69.7,426.9 78.3,437.1 86.9,432 95.5,429 104.1,436.2 112.7,441.6 121.3,436.8 129.9,434.4 138.5,427.2 147.1,423.6 155.7,419.4 164.3,416.7 172.9,415.5 181.5,417.9 198.7,398.4 215.9,407.1 233.1,406.5" fill="none" stroke="#2e2e2e" stroke-width="1"/>
<g stroke="#333" stroke-width="1" fill="none">
<path d="M61.1 403.5V409.5M59.1 403.5H63.1M59.1 409.5H63.1"/>
<path d="M69.7 423.9V429.9M67.7 423.9H71.7M67.7 429.9H71.7"/>
<path d="M78.3 434.1V440.1M76.3 434.1H80.3M76.3 440.1H80.3"/>
<path d="M86.9 429V435M84.9 429H88.9M84.9 435H88.9"/>
<path d="M95.5 426V432M93.5 426H97.5M93.5 432H97.5"/>
<path d="M104.1 433.2V439.2M102.1 433.2H106.1M102.1 439.2H106.1"/>
<path d="M112.7 438.6V444.6M110.7 438.6H114.7M110.7 444.6H114.7"/>
<path d="M121.3 433.8V439.8M119.3 433.8H123.3M119.3 439.8H123.3"/>
<path d="M129.9 431.4V437.4M127.9 431.4H131.9M127.9 437.4H131.9"/>
<path d="M138.5 424.2V430.2M136.5 424.2H140.5M136.5 430.2H140.5"/>
<path d="M147.1 420.6V426.6M145.1 420.6H149.1M145.1 426.6H149.1"/>
<path d="M155.7 416.4V422.4M153.7 416.4H157.7M153.7 422.4H157.7"/>
<path d="M164.3 413.7V419.7M162.3 413.7H166.3M162.3 419.7H166.3"/>
<path d="M172.9 412.5V418.5M170.9 412.5H174.9M170.9 418.5H174.9"/>
<path d="M181.5 414.9V420.9M179.5 414.9H183.5M179.5 420.9H183.5"/>
<path d="M198.7 395.4V401.4M196.7 395.4H200.7M196.7 401.4H200.7"/>
<path d="M215.9 404.1V410.1M213.9 404.1H217.9M213.9 410.1H217.9"/>
<path d="M233.1 403.5V409.5M231.1 403.5H235.1M231.1 409.5H235.1"/>
</g>
<path d="M52.5 406.12L54.8 410.26L50.2 410.26Z" fill="#fff" stroke="#1e1e1e" stroke-width="1"/>
<path d="M61.1 404.02L63.4 408.16L58.8 408.16Z" fill="#fff" stroke="#1e1e1e" stroke-width="1"/>
<path d="M69.7 424.42L72 428.56L67.4 428.56Z" fill="#fff" stroke="#1e1e1e" stroke-width="1"/>
<path d="M78.3 434.62L80.6 438.76L76 438.76Z" fill="#fff" stroke="#1e1e1e" stroke-width="1"/>
<path d="M86.9 429.52L89.2 433.66L84.6 433.66Z" fill="#fff" stroke="#1e1e1e" stroke-width="1"/>
<path d="M95.5 426.52L97.8 430.66L93.2 430.66Z" fill="#fff" stroke="#1e1e1e" stroke-width="1"/>
<path d="M104.1 433.72L106.4 437.86L101.8 437.86Z" fill="#fff" stroke="#1e1e1e" stroke-width="1"/>
<path d="M112.7 439.12L115 443.26L110.4 443.26Z" fill="#fff" stroke="#1e1e1e" stroke-width="1"/>
<path d="M121.3 434.32L123.6 438.46L119 438.46Z" fill="#fff" stroke="#1e1e1e" stroke-width="1"/>
<path d="M129.9 431.92L132.2 436.06L127.6 436.06Z" fill="#fff" stroke="#1e1e1e" stroke-width="1"/>
<path d="M138.5 424.72L140.8 428.86L136.2 428.86Z" fill="#fff" stroke="#1e1e1e" stroke-width="1"/>
<path d="M147.1 421.12L149.4 425.26L144.8 425.26Z" fill="#fff" stroke="#1e1e1e" stroke-width="1"/>
<path d="M155.7 416.92L158 421.06L153.4 421.06Z" fill="#2a2a2a" stroke="#1e1e1e" stroke-width="1"/>
<path d="M164.3 414.22L166.6 418.36L162 418.36Z" fill="#2a2a2a" stroke="#1e1e1e" stroke-width="1"/>
<path d="M172.9 413.02L175.2 417.16L170.6 417.16Z" fill="#fff" stroke="#1e1e1e" stroke-width="1"/>
<path d="M181.5 415.42L183.8 419.56L179.2 419.56Z" fill="#fff" stroke="#1e1e1e" stroke-width="1"/>
<path d="M198.7 395.92L201 400.06L196.4 400.06Z" fill="#2a2a2a" stroke="#1e1e1e" stroke-width="1"/>
<path d="M215.9 404.62L218.2 408.76L213.6 408.76Z" fill="#fff" stroke="#1e1e1e" stroke-width="1"/>
<path d="M233.1 404.02L235.4 408.16L230.8 408.16Z" fill="#fff" stroke="#1e1e1e" stroke-width="1"/>
<polyline points="52.5,408.6 61.1,407.1 69.7,440.1 78.3,450.9 86.9,446.7 95.5,444.6 104.1,462.6 112.7,450.6 121.3,449.1 129.9,440.1 138.5,428.1 147.1,423 155.7,419.4 164.3,421.2 172.9,416.7 181.5,418.2 198.7,405.6 215.9,411.6 233.1,410.4" fill="none" stroke="#2e2e2e" stroke-width="1"/>
<g stroke="#333" stroke-width="1" fill="none">
<path d="M61.1 405.6V408.6M59.1 405.6H63.1M59.1 408.6H63.1"/>
<path d="M69.7 437.7V442.5M67.7 437.7H71.7M67.7 442.5H71.7"/>
<path d="M78.3 446.4V455.4M76.3 446.4H80.3M76.3 455.4H80.3"/>
<path d="M86.9 443.1V450.3M84.9 443.1H88.9M84.9 450.3H88.9"/>
<path d="M95.5 441.6V447.6M93.5 441.6H97.5M93.5 447.6H97.5"/>
<path d="M104.1 457.2V468M102.1 457.2H106.1M102.1 468H106.1"/>
<path d="M112.7 440.1V461.1M110.7 440.1H114.7M110.7 461.1H114.7"/>
<path d="M121.3 444.6V453.6M119.3 444.6H123.3M119.3 453.6H123.3"/>
<path d="M129.9 437.1V443.1M127.9 437.1H131.9M127.9 443.1H131.9"/>
<path d="M138.5 425.1V431.1M136.5 425.1H140.5M136.5 431.1H140.5"/>
<path d="M147.1 420V426M145.1 420H149.1M145.1 426H149.1"/>
<path d="M155.7 416.4V422.4M153.7 416.4H157.7M153.7 422.4H157.7"/>
<path d="M164.3 418.2V424.2M162.3 418.2H166.3M162.3 424.2H166.3"/>
<path d="M172.9 413.7V419.7M170.9 413.7H174.9M170.9 419.7H174.9"/>
<path d="M181.5 415.2V421.2M179.5 415.2H183.5M179.5 421.2H183.5"/>
<path d="M198.7 402.6V408.6M196.7 402.6H200.7M196.7 408.6H200.7"/>
<path d="M215.9 408.6V414.6M213.9 408.6H217.9M213.9 414.6H217.9"/>
<path d="M233.1 407.4V413.4M231.1 407.4H235.1M231.1 413.4H235.1"/>
</g>
<rect x="50.55" y="406.65" width="3.9" height="3.9" fill="#fff" stroke="#1e1e1e" stroke-width="1"/>
<rect x="59.15" y="405.15" width="3.9" height="3.9" fill="#fff" stroke="#1e1e1e" stroke-width="1"/>
<rect x="67.75" y="438.15" width="3.9" height="3.9" fill="#2a2a2a" stroke="#1e1e1e" stroke-width="1"/>
<rect x="76.35" y="448.95" width="3.9" height="3.9" fill="#fff" stroke="#1e1e1e" stroke-width="1"/>
<rect x="84.95" y="444.75" width="3.9" height="3.9" fill="#fff" stroke="#1e1e1e" stroke-width="1"/>
<rect x="93.55" y="442.65" width="3.9" height="3.9" fill="#fff" stroke="#1e1e1e" stroke-width="1"/>
<rect x="102.15" y="460.65" width="3.9" height="3.9" fill="#fff" stroke="#1e1e1e" stroke-width="1"/>
<rect x="110.75" y="448.65" width="3.9" height="3.9" fill="#fff" stroke="#1e1e1e" stroke-width="1"/>
<rect x="119.35" y="447.15" width="3.9" height="3.9" fill="#fff" stroke="#1e1e1e" stroke-width="1"/>
<rect x="127.95" y="438.15" width="3.9" height="3.9" fill="#fff" stroke="#1e1e1e" stroke-width="1"/>
<rect x="136.55" y="426.15" width="3.9" height="3.9" fill="#fff" stroke="#1e1e1e" stroke-width="1"/>
<rect x="145.15" y="421.05" width="3.9" height="3.9" fill="#fff" stroke="#1e1e1e" stroke-width="1"/>
<rect x="153.75" y="417.45" width="3.9" height="3.9" fill="#fff" stroke="#1e1e1e" stroke-width="1"/>
<rect x="162.35" y="419.25" width="3.9" height="3.9" fill="#fff" stroke="#1e1e1e" stroke-width="1"/>
<rect x="170.95" y="414.75" width="3.9" height="3.9" fill="#2a2a2a" stroke="#1e1e1e" stroke-width="1"/>
<rect x="179.55" y="416.25" width="3.9" height="3.9" fill="#2a2a2a" stroke="#1e1e1e" stroke-width="1"/>
<rect x="196.75" y="403.65" width="3.9" height="3.9" fill="#fff" stroke="#1e1e1e" stroke-width="1"/>
<rect x="213.95" y="409.65" width="3.9" height="3.9" fill="#fff" stroke="#1e1e1e" stroke-width="1"/>
<rect x="231.15" y="408.45" width="3.9" height="3.9" fill="#fff" stroke="#1e1e1e" stroke-width="1"/>
<polyline points="52.5,408.6 61.1,415.5 69.7,437.7 78.3,441.3 86.9,442.2 95.5,441.3 104.1,458.7 112.7,462.3 121.3,454.2 129.9,439.2 138.5,427.2 147.1,424.8 155.7,429.6 164.3,427.2 172.9,428.4 181.5,423.6 198.7,415.8 215.9,420 233.1,412.8" fill="none" stroke="#3434d8" stroke-width="1"/>
<g stroke="#3434d8" stroke-width="1" fill="none">
<path d="M61.1 413.7V417.3M58.6 413.7H63.6M58.6 417.3H63.6"/>
<path d="M69.7 435.3V440.1M67.2 435.3H72.2M67.2 440.1H72.2"/>
<path d="M78.3 437.7V444.9M75.8 437.7H80.8M75.8 444.9H80.8"/>
<path d="M86.9 437.7V446.7M84.4 437.7H89.4M84.4 446.7H89.4"/>
<path d="M95.5 436.8V445.8M93 436.8H98M93 445.8H98"/>
<path d="M104.1 454.2V463.2M101.6 454.2H106.6M101.6 463.2H106.6"/>
<path d="M112.7 457.8V466.8M110.2 457.8H115.2M110.2 466.8H115.2"/>
<path d="M121.3 448.2V460.2M118.8 448.2H123.8M118.8 460.2H123.8"/>
<path d="M129.9 434.7V443.7M127.4 434.7H132.4M127.4 443.7H132.4"/>
<path d="M138.5 421.8V432.6M136 421.8H141M136 432.6H141"/>
<path d="M147.1 419.4V430.2M144.6 419.4H149.6M144.6 430.2H149.6"/>
<path d="M155.7 422.1V437.1M153.2 422.1H158.2M153.2 437.1H158.2"/>
<path d="M164.3 421.2V433.2M161.8 421.2H166.8M161.8 433.2H166.8"/>
<path d="M172.9 423V433.8M170.4 423H175.4M170.4 433.8H175.4"/>
<path d="M181.5 420V427.2M179 420H184M179 427.2H184"/>
<path d="M198.7 412.2V419.4M196.2 412.2H201.2M196.2 419.4H201.2"/>
<path d="M215.9 416.4V423.6M213.4 416.4H218.4M213.4 423.6H218.4"/>
<path d="M233.1 410.4V415.2M230.6 410.4H235.6M230.6 415.2H235.6"/>
</g>
<circle cx="52.5" cy="408.6" r="3.5" fill="#7b7b85" stroke="#3a3ad0" stroke-width="1"/>
<circle cx="61.1" cy="415.5" r="3.5" fill="#7b7b85" stroke="#3a3ad0" stroke-width="1"/>
<circle cx="69.7" cy="437.7" r="3.5" fill="#7b7b85" stroke="#3a3ad0" stroke-width="1"/>
<circle cx="78.3" cy="441.3" r="3.5" fill="#7b7b85" stroke="#3a3ad0" stroke-width="1"/>
<circle cx="86.9" cy="442.2" r="3.5" fill="#7b7b85" stroke="#3a3ad0" stroke-width="1"/>
<circle cx="95.5" cy="441.3" r="3.5" fill="#7b7b85" stroke="#3a3ad0" stroke-width="1"/>
<circle cx="104.1" cy="458.7" r="3.5" fill="#7b7b85" stroke="#3a3ad0" stroke-width="1"/>
<circle cx="112.7" cy="462.3" r="3.5" fill="#7b7b85" stroke="#3a3ad0" stroke-width="1"/>
<circle cx="121.3" cy="454.2" r="3.5" fill="#7b7b85" stroke="#3a3ad0" stroke-width="1"/>
<circle cx="129.9" cy="439.2" r="3.5" fill="#7b7b85" stroke="#3a3ad0" stroke-width="1"/>
<circle cx="138.5" cy="427.2" r="3.5" fill="#7b7b85" stroke="#3a3ad0" stroke-width="1"/>
<circle cx="147.1" cy="424.8" r="3.5" fill="#7b7b85" stroke="#3a3ad0" stroke-width="1"/>
<circle cx="155.7" cy="429.6" r="3.5" fill="#7b7b85" stroke="#3a3ad0" stroke-width="1"/>
<circle cx="164.3" cy="427.2" r="3.5" fill="#7b7b85" stroke="#3a3ad0" stroke-width="1"/>
<circle cx="172.9" cy="428.4" r="3.5" fill="#7b7b85" stroke="#3a3ad0" stroke-width="1"/>
<circle cx="181.5" cy="423.6" r="3.5" fill="#7b7b85" stroke="#3a3ad0" stroke-width="1"/>
<circle cx="198.7" cy="415.8" r="3.5" fill="#7b7b85" stroke="#3a3ad0" stroke-width="1"/>
<circle cx="215.9" cy="420" r="3.5" fill="#7b7b85" stroke="#3a3ad0" stroke-width="1"/>
<circle cx="233.1" cy="412.8" r="3.5" fill="#7b7b85" stroke="#3a3ad0" stroke-width="1"/>
<polygon points="103.4,389 104.01,390.46 105.59,390.59 104.38,391.62 104.75,393.16 103.4,392.34 102.05,393.16 102.42,391.62 101.21,390.59 102.79,390.46" fill="#333"/>
<polygon points="107.8,389 108.41,390.46 109.99,390.59 108.78,391.62 109.15,393.16 107.8,392.34 106.45,393.16 106.82,391.62 105.61,390.59 107.19,390.46" fill="#333"/>
<polygon points="167.2,388 167.81,389.46 169.39,389.59 168.18,390.62 168.55,392.16 167.2,391.34 165.85,392.16 166.22,390.62 165.01,389.59 166.59,389.46" fill="#333"/>
<polygon points="171.6,388 172.21,389.46 173.79,389.59 172.58,390.62 172.95,392.16 171.6,391.34 170.25,392.16 170.62,390.62 169.41,389.59 170.99,389.46" fill="#333"/>
<polygon points="216.2,379.3 216.83,380.83 218.48,380.96 217.23,382.03 217.61,383.64 216.2,382.78 214.79,383.64 215.17,382.03 213.92,380.96 215.57,380.83" fill="#333"/>
<polygon points="216.2,384.9 216.83,386.43 218.48,386.56 217.23,387.63 217.61,389.24 216.2,388.38 214.79,389.24 215.17,387.63 213.92,386.56 215.57,386.43" fill="#333"/>
<path d="M257.8 387.4H270.3" stroke="#3434d8" stroke-width="1"/>
<circle cx="264" cy="387.4" r="2.87" fill="#7b7b85" stroke="#3a3ad0" stroke-width="1"/>
<text x="277.74" y="391.3" font-size="12.1" font-weight="bold" fill="#050505" textLength="83.32" lengthAdjust="spacingAndGlyphs">Oseltamivir PO</text>
<path d="M257.8 401.26H270.3" stroke="#2e2e2e" stroke-width="1"/>
<rect x="262.4" y="399.66" width="3.2" height="3.2" fill="#fff" stroke="#1e1e1e" stroke-width="1"/>
<text x="277.74" y="405.16" font-size="12.1" font-weight="bold" fill="#050505" textLength="77.51" lengthAdjust="spacingAndGlyphs">Oseltamivir IP</text>
<path d="M257.8 415.12H270.3" stroke="#2e2e2e" stroke-width="1"/>
<path d="M264 413.08L265.88 416.48L262.12 416.48Z" fill="#fff" stroke="#1e1e1e" stroke-width="1"/>
<text x="277.74" y="419.02" font-size="12.1" font-weight="bold" fill="#050505" textLength="78.15" lengthAdjust="spacingAndGlyphs">Oseltamivir IN</text>
<path d="M257.8 428.98H270.3" stroke="#cc48cc" stroke-width="1"/>
<path d="M261.21 426.72L266.79 426.72L264 431.74Z" fill="#8a5090" stroke="#b050b8" stroke-width="0.8"/>
<text x="277.74" y="432.88" font-size="12.1" font-weight="bold" fill="#050505" textLength="82.24" lengthAdjust="spacingAndGlyphs">Oseltamivir AE</text>
<path d="M257.8 442.84H270.3" stroke="#ee3040" stroke-width="1"/>
<path d="M264 441.04L265.81 442.84L264 444.65L262.19 442.84Z" fill="#ffb4bc" stroke="#ee3040" stroke-width="0.9"/>
<text x="278.14" y="446.74" font-size="12.1" font-weight="bold" fill="#050505" textLength="63.93" lengthAdjust="spacingAndGlyphs">Virus Alone</text>
<path d="M257.8 456.7H270.3" stroke="#4a4a4a" stroke-width="1"/>
<circle cx="264" cy="456.7" r="1.64" fill="#b4b4b4" stroke="#444" stroke-width="0.9"/>
<text x="278.14" y="460.6" font-size="12.1" font-weight="bold" fill="#050505" textLength="73.63" lengthAdjust="spacingAndGlyphs">Vehicle alone</text>
<text x="394.29" y="20.45" font-size="17.8" font-weight="bold" fill="#050505" textLength="11.2" lengthAdjust="spacingAndGlyphs" style="stroke-width:0.8px">B</text>
<g stroke="#707070" stroke-width="1" fill="none">
<path d="M436.5 34.1V155.1H617.85"/>
<path d="M433.2 155.1H436.5"/>
<path d="M433.2 133.1H436.5"/>
<path d="M433.2 111.1H436.5"/>
<path d="M433.2 89.1H436.5"/>
<path d="M433.2 67.1H436.5"/>
<path d="M433.2 45.1H436.5"/>
<path d="M436.5 155.1V158.4"/>
<path d="M453.69 155.1V158.4"/>
<path d="M470.88 155.1V158.4"/>
<path d="M488.07 155.1V158.4"/>
<path d="M505.26 155.1V158.4"/>
<path d="M522.45 155.1V158.4"/>
<path d="M539.64 155.1V158.4"/>
<path d="M556.83 155.1V158.4"/>
<path d="M574.02 155.1V158.4"/>
<path d="M591.21 155.1V158.4"/>
<path d="M608.4 155.1V158.4"/>
</g>
<g font-size="11.3" font-weight="bold" fill="#050505">
<text x="425.62" y="159.3">0</text>
<text x="419.33" y="137.3">2</text>
<text x="425.62" y="137.3">0</text>
<text x="419.33" y="115.3">4</text>
<text x="425.62" y="115.3">0</text>
<text x="419.33" y="93.3">6</text>
<text x="425.62" y="93.3">0</text>
<text x="419.33" y="71.3">8</text>
<text x="425.62" y="71.3">0</text>
<path transform="translate(413.05,49.3) scale(0.005518,-0.005518)" d="M478 0L478 1170L140 959L140 1180L493 1409L759 1409L759 0Z" stroke="#050505" stroke-width="39.9"/>
<text x="419.33" y="49.3">0</text>
<text x="425.62" y="49.3">0</text>
<text x="433.36" y="170.5">0</text>
<text x="450.55" y="170.5">2</text>
<text x="467.74" y="170.5">4</text>
<text x="484.93" y="170.5">6</text>
<text x="502.12" y="170.5">8</text>
<path transform="translate(516.17,170.5) scale(0.005518,-0.005518)" d="M478 0L478 1170L140 959L140 1180L493 1409L759 1409L759 0Z" stroke="#050505" stroke-width="39.9"/>
<text x="522.45" y="170.5">0</text>
<path transform="translate(533.36,170.5) scale(0.005518,-0.005518)" d="M478 0L478 1170L140 959L140 1180L493 1409L759 1409L759 0Z" stroke="#050505" stroke-width="39.9"/>
<text x="539.64" y="170.5">2</text>
<path transform="translate(550.55,170.5) scale(0.005518,-0.005518)" d="M478 0L478 1170L140 959L140 1180L493 1409L759 1409L759 0Z" stroke="#050505" stroke-width="39.9"/>
<text x="556.83" y="170.5">4</text>
<path transform="translate(567.74,170.5) scale(0.005518,-0.005518)" d="M478 0L478 1170L140 959L140 1180L493 1409L759 1409L759 0Z" stroke="#050505" stroke-width="39.9"/>
<text x="574.02" y="170.5">6</text>
<path transform="translate(584.93,170.5) scale(0.005518,-0.005518)" d="M478 0L478 1170L140 959L140 1180L493 1409L759 1409L759 0Z" stroke="#050505" stroke-width="39.9"/>
<text x="591.21" y="170.5">8</text>
<text x="602.12" y="170.5">2</text>
<text x="608.4" y="170.5">0</text>
</g>
<text x="458.43" y="188.75" font-size="14.8" font-weight="bold" fill="#050505" textLength="137.38" lengthAdjust="spacingAndGlyphs">Days post infection</text>
<text transform="translate(405.9,152.29) rotate(-90)" font-size="14.8" font-weight="bold" fill="#050505" textLength="117.24" lengthAdjust="spacingAndGlyphs">Percent survival</text>
<polyline points="436.5,45.1 488.5,45.1 488.5,133.1 617,133.1" fill="none" stroke="#f4a0a0" stroke-width="1.1"/>
<polyline points="488.5,89.1 496.5,89.1 496.5,111.1 617,111.1" fill="none" stroke="#3a3a3a" stroke-width="1.0"/>
<polyline points="436.5,43.7 488.5,43.7 488.5,130.9 617,130.9" fill="none" stroke="#5cbfc8" stroke-width="1.0"/>
<polyline points="436.5,45.1 617,45.1" fill="none" stroke="#4a4450" stroke-width="2"/>
<polyline points="436.5,42.35 617,42.35" fill="none" stroke="#f580e8" stroke-width="1.1"/>
<rect x="615.04" y="109.15" width="3.9" height="3.9" fill="#fff" stroke="#1e1e1e" stroke-width="1"/>
<path d="M617 44.12L619.29 48.26L614.7 48.26Z" fill="#444" stroke="#1e1e1e" stroke-width="1"/>
<circle cx="617" cy="130.9" r="3.1" fill="#5f8b90" stroke="#45b0bc" stroke-width="1"/>
<path d="M613.7 39.18L620.29 39.18L617 45.12Z" fill="#93628f" stroke="#e47ade" stroke-width="0.8"/>
<path d="M618.8 44.4H622.3V111.4H619.8" stroke="#3a3a3a" stroke-width="1" fill="none"/>
<path d="M621.3 44.4H626.3V135.5H622.8" stroke="#3a3a3a" stroke-width="1" fill="none"/>
<polygon points="619.1,71 619.76,72.59 621.48,72.73 620.17,73.85 620.57,75.52 619.1,74.62 617.63,75.52 618.03,73.85 616.72,72.73 618.44,72.59" fill="#333"/>
<polygon points="630.4,85.7 631.06,87.29 632.78,87.43 631.47,88.55 631.87,90.22 630.4,89.33 628.93,90.22 629.33,88.55 628.02,87.43 629.74,87.29" fill="#333"/>
<path d="M641.8 43.55H654.3" stroke="#45b8c6" stroke-width="1"/>
<circle cx="648" cy="43.55" r="2.54" fill="#5f8b90" stroke="#45b0bc" stroke-width="1"/>
<text x="662.24" y="47.45" font-size="12.1" font-weight="bold" fill="#050505" textLength="82.6" lengthAdjust="spacingAndGlyphs">Oseltamivir PO</text>
<path d="M641.8 57.4H654.3" stroke="#2e2e2e" stroke-width="1"/>
<rect x="646.4" y="55.8" width="3.2" height="3.2" fill="#fff" stroke="#1e1e1e" stroke-width="1"/>
<text x="662.24" y="61.3" font-size="12.1" font-weight="bold" fill="#050505" textLength="76.84" lengthAdjust="spacingAndGlyphs">Oseltamivir IP</text>
<path d="M641.8 71.25H654.3" stroke="#2e2e2e" stroke-width="1"/>
<path d="M648 69.21L649.88 72.61L646.12 72.61Z" fill="#fff" stroke="#1e1e1e" stroke-width="1"/>
<text x="662.24" y="75.15" font-size="12.1" font-weight="bold" fill="#050505" textLength="77.48" lengthAdjust="spacingAndGlyphs">Oseltamivir IN</text>
<path d="M641.8 85.1H654.3" stroke="#f58af0" stroke-width="1"/>
<path d="M645.29 82.91L650.71 82.91L648 87.78Z" fill="#93628f" stroke="#e47ade" stroke-width="0.8"/>
<text x="662.24" y="89" font-size="12.1" font-weight="bold" fill="#050505" textLength="81.53" lengthAdjust="spacingAndGlyphs">Oseltamivir AE</text>
<path d="M641.8 98.95H654.3" stroke="#f28a8a" stroke-width="1"/>
<path d="M648 97.31L649.64 98.95L648 100.59L646.36 98.95Z" fill="#f89090" stroke="#f07070" stroke-width="0.8"/>
<text x="662.64" y="102.85" font-size="12.1" font-weight="bold" fill="#050505" textLength="63.38" lengthAdjust="spacingAndGlyphs">Virus Alone</text>
<path d="M641.8 112.8H654.3" stroke="#4a4a4a" stroke-width="1"/>
<circle cx="648" cy="112.8" r="1.64" fill="#b4b4b4" stroke="#444" stroke-width="0.9"/>
<text x="662.64" y="116.7" font-size="12.1" font-weight="bold" fill="#050505" textLength="73" lengthAdjust="spacingAndGlyphs">Vehicle alone</text>
<text x="394.29" y="358.45" font-size="17.8" font-weight="bold" fill="#050505" textLength="13.45" lengthAdjust="spacingAndGlyphs" style="stroke-width:0.8px">D</text>
<g stroke="#707070" stroke-width="1" fill="none">
<path d="M436.5 378V499H617.85"/>
<path d="M433.2 499H436.5"/>
<path d="M433.2 477H436.5"/>
<path d="M433.2 455H436.5"/>
<path d="M433.2 433H436.5"/>
<path d="M433.2 411H436.5"/>
<path d="M433.2 389H436.5"/>
<path d="M436.5 499V502.3"/>
<path d="M453.69 499V502.3"/>
<path d="M470.88 499V502.3"/>
<path d="M488.07 499V502.3"/>
<path d="M505.26 499V502.3"/>
<path d="M522.45 499V502.3"/>
<path d="M539.64 499V502.3"/>
<path d="M556.83 499V502.3"/>
<path d="M574.02 499V502.3"/>
<path d="M591.21 499V502.3"/>
<path d="M608.4 499V502.3"/>
</g>
<g font-size="11.3" font-weight="bold" fill="#050505">
<text x="425.62" y="503.2">0</text>
<text x="419.33" y="481.2">2</text>
<text x="425.62" y="481.2">0</text>
<text x="419.33" y="459.2">4</text>
<text x="425.62" y="459.2">0</text>
<text x="419.33" y="437.2">6</text>
<text x="425.62" y="437.2">0</text>
<text x="419.33" y="415.2">8</text>
<text x="425.62" y="415.2">0</text>
<path transform="translate(413.05,393.2) scale(0.005518,-0.005518)" d="M478 0L478 1170L140 959L140 1180L493 1409L759 1409L759 0Z" stroke="#050505" stroke-width="39.9"/>
<text x="419.33" y="393.2">0</text>
<text x="425.62" y="393.2">0</text>
<text x="433.36" y="514.4">0</text>
<text x="450.55" y="514.4">2</text>
<text x="467.74" y="514.4">4</text>
<text x="484.93" y="514.4">6</text>
<text x="502.12" y="514.4">8</text>
<path transform="translate(516.17,514.4) scale(0.005518,-0.005518)" d="M478 0L478 1170L140 959L140 1180L493 1409L759 1409L759 0Z" stroke="#050505" stroke-width="39.9"/>
<text x="522.45" y="514.4">0</text>
<path transform="translate(533.36,514.4) scale(0.005518,-0.005518)" d="M478 0L478 1170L140 959L140 1180L493 1409L759 1409L759 0Z" stroke="#050505" stroke-width="39.9"/>
<text x="539.64" y="514.4">2</text>
<path transform="translate(550.55,514.4) scale(0.005518,-0.005518)" d="M478 0L478 1170L140 959L140 1180L493 1409L759 1409L759 0Z" stroke="#050505" stroke-width="39.9"/>
<text x="556.83" y="514.4">4</text>
<path transform="translate(567.74,514.4) scale(0.005518,-0.005518)" d="M478 0L478 1170L140 959L140 1180L493 1409L759 1409L759 0Z" stroke="#050505" stroke-width="39.9"/>
<text x="574.02" y="514.4">6</text>
<path transform="translate(584.93,514.4) scale(0.005518,-0.005518)" d="M478 0L478 1170L140 959L140 1180L493 1409L759 1409L759 0Z" stroke="#050505" stroke-width="39.9"/>
<text x="591.21" y="514.4">8</text>
<text x="602.12" y="514.4">2</text>
<text x="608.4" y="514.4">0</text>
</g>
<text x="458.43" y="532.6" font-size="14.8" font-weight="bold" fill="#050505" textLength="137.59" lengthAdjust="spacingAndGlyphs">Days post infection</text>
<text transform="translate(405.9,495.99) rotate(-90)" font-size="14.8" font-weight="bold" fill="#050505" textLength="118.15" lengthAdjust="spacingAndGlyphs">Percent survival</text>
<polyline points="436.5,389 488.5,389 488.5,477 617,477" fill="none" stroke="#e05a70" stroke-width="1.0"/>
<polyline points="436.5,389 496.5,389 496.5,411 617,411" fill="none" stroke="#3a3a3a" stroke-width="1.0"/>
<polyline points="436.5,387 496.5,387 496.5,409.2 617,409.2" fill="none" stroke="#7272ee" stroke-width="1.2"/>
<polyline points="436.5,389 617,389" fill="none" stroke="#4a4a4a" stroke-width="2"/>
<polyline points="436.5,385.37 617,385.37" fill="none" stroke="#f6a2c8" stroke-width="1.6"/>
<path d="M617 387.02L619.29 391.16L614.7 391.16Z" fill="#444" stroke="#1e1e1e" stroke-width="1"/>
<circle cx="617" cy="409.5" r="3.2" fill="#7b7b85" stroke="#3a3ad0" stroke-width="1"/>
<path d="M617 474.8L619.2 477L617 479.2L614.79 477Z" fill="#ffc0c8" stroke="#ee4058" stroke-width="0.9"/>
<path d="M613.7 381.98L620.29 381.98L617 387.92Z" fill="#8f5a92" stroke="#e07aa0" stroke-width="0.8"/>
<path d="M618.6 388.5H622.6V478.3H618.6" stroke="#3a3a3a" stroke-width="1" fill="none"/>
<polygon points="627.5,427 628.16,428.59 629.88,428.73 628.57,429.85 628.97,431.52 627.5,430.62 626.03,431.52 626.43,429.85 625.12,428.73 626.84,428.59" fill="#333"/>
<path d="M641.8 387.2H654.3" stroke="#6a6ae8" stroke-width="1"/>
<circle cx="648" cy="387.2" r="2.62" fill="#7b7b85" stroke="#3a3ad0" stroke-width="1"/>
<text x="662.24" y="391.1" font-size="12.1" font-weight="bold" fill="#050505" textLength="82.6" lengthAdjust="spacingAndGlyphs">Oseltamivir PO</text>
<path d="M641.8 401.05H654.3" stroke="#2e2e2e" stroke-width="1"/>
<rect x="646.4" y="399.45" width="3.2" height="3.2" fill="#fff" stroke="#1e1e1e" stroke-width="1"/>
<text x="662.24" y="404.95" font-size="12.1" font-weight="bold" fill="#050505" textLength="76.84" lengthAdjust="spacingAndGlyphs">Oseltamivir IP</text>
<path d="M641.8 414.9H654.3" stroke="#2e2e2e" stroke-width="1"/>
<path d="M648 412.86L649.88 416.26L646.12 416.26Z" fill="#fff" stroke="#1e1e1e" stroke-width="1"/>
<text x="662.24" y="418.8" font-size="12.1" font-weight="bold" fill="#050505" textLength="77.48" lengthAdjust="spacingAndGlyphs">Oseltamivir IN</text>
<path d="M641.8 428.75H654.3" stroke="#f49ac0" stroke-width="1"/>
<path d="M645.29 426.56L650.71 426.56L648 431.43Z" fill="#8f5a92" stroke="#e07aa0" stroke-width="0.8"/>
<text x="662.24" y="432.65" font-size="12.1" font-weight="bold" fill="#050505" textLength="81.53" lengthAdjust="spacingAndGlyphs">Oseltamivir AE</text>
<path d="M641.8 442.6H654.3" stroke="#f06070" stroke-width="1"/>
<path d="M648 440.8L649.8 442.6L648 444.41L646.2 442.6Z" fill="#ffc0c8" stroke="#ee4058" stroke-width="0.9"/>
<text x="662.64" y="446.5" font-size="12.1" font-weight="bold" fill="#050505" textLength="63.38" lengthAdjust="spacingAndGlyphs">Virus Alone</text>
<path d="M641.8 456.45H654.3" stroke="#4a4a4a" stroke-width="1"/>
<circle cx="648" cy="456.45" r="1.64" fill="#b4b4b4" stroke="#444" stroke-width="0.9"/>
<text x="662.64" y="460.35" font-size="12.1" font-weight="bold" fill="#050505" textLength="73" lengthAdjust="spacingAndGlyphs">Vehicle alone</text>
</svg></body></html>
